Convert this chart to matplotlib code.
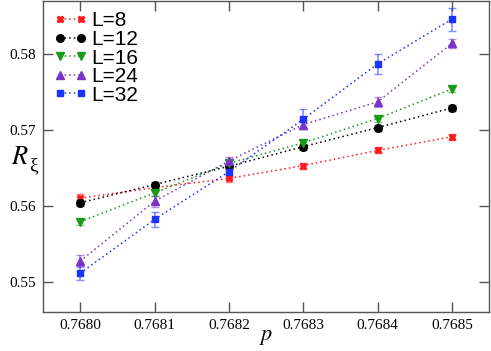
import matplotlib
matplotlib.use("Agg")
import matplotlib.pyplot as plt

plt.rcParams['mathtext.fontset'] = 'stix'
plt.rcParams['font.family'] = 'serif'
plt.rcParams['font.serif'] = ['Liberation Serif', 'DejaVu Serif']

p = [0.7680, 0.7681, 0.7682, 0.7683, 0.7684, 0.7685]

labels = ["L=8", "L=12", "L=16", "L=24", "L=32"]
r8 = [0.5610, 0.5624, 0.5636, 0.5653, 0.5673, 0.5691]
r12 = [0.5604, 0.5628, 0.5652, 0.5678, 0.5703, 0.5729]
r16 = [0.5579, 0.5617, 0.5656, 0.5683, 0.5715, 0.5754]
r24 = [0.5527, 0.5606, 0.5659, 0.5707, 0.5737, 0.5814]
r32 = [0.5511, 0.5582, 0.5645, 0.5714, 0.5787, 0.5846]

e8 = [0.0005, 0.0004, 0.0004, 0.0004, 0.0004, 0.0004]
e12 = [0.0004, 0.0004, 0.0004, 0.0004, 0.0004, 0.0004]
e16 = [0.0004, 0.0004, 0.0004, 0.0004, 0.0004, 0.0004]
e24 = [0.0008, 0.0007, 0.0006, 0.0006, 0.0007, 0.0006]
e32 = [0.0009, 0.0010, 0.0008, 0.0013, 0.0013, 0.0015]

colors = ["#ff1a1a", "#000000", "#1a9a1a", "#7a35c8", "#1a33ff"]
markers = ["X", "o", "v", "^", "s"]
msizes = [4.5, 5.5, 5.5, 5.5, 5]

fig = plt.figure(figsize=(4.91, 3.51), dpi=100)
ax = fig.add_axes([43/491, 1 - 312/351, (489-43)/491, (312-1)/351])

series = [r8, r12, r16, r24, r32]
errs = [e8, e12, e16, e24, e32]
for y, e, c, m, ms, lab in zip(series, errs, colors, markers, msizes, labels):
    ax.errorbar(p, y, yerr=e, fmt='none', ecolor=c, alpha=0.55, elinewidth=1.2,
                capsize=3, capthick=1.0, zorder=2)
    ax.plot(p, y, linestyle=(0, (1, 2)), color=c, marker=m, markersize=ms,
            linewidth=1.1, label=lab, zorder=3)

ax.set_xlim(0.76795, 0.76855)
ax.set_ylim(0.546, 0.587)
ax.set_xticks(p)
ax.set_xticklabels(["0.7680", "0.7681", "0.7682", "0.7683", "0.7684", "0.7685"])
ax.set_yticks([0.55, 0.56, 0.57, 0.58])
ax.set_yticklabels(["0.55", "0.56", "0.57", "0.58"])

ax.tick_params(direction='in', top=True, right=True, length=7, width=1.0,
               color='#555555', pad=5, labelsize=11)
for s in ax.spines.values():
    s.set_color('#555555')
    s.set_linewidth(1.0)

ax.set_xlabel(r"$p$", fontsize=16, labelpad=-3)

# y label: italic R with a larger subscript xi
fig.text(11/491, 1 - 164/351, r"$R$", fontsize=19, ha='left', va='baseline')
fig.text(29/491, 1 - 170/351, "ξ", fontsize=14, ha='left', va='baseline')

leg = ax.legend(loc='upper left', numpoints=2, frameon=False,
                prop={'family': 'Liberation Sans', 'size': 15},
                handlelength=1.6, handletextpad=0.2, labelspacing=-0.02,
                borderaxespad=0.1, bbox_to_anchor=(0.0, 1.0))

fig.savefig("out.png", dpi=100)
